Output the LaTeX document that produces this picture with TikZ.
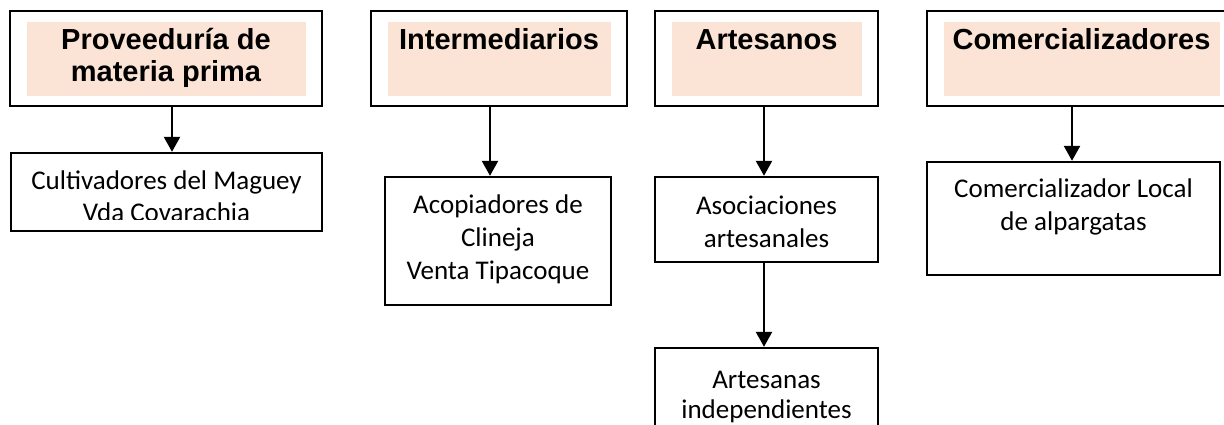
\documentclass[tikz,border=0pt]{standalone}
\usepackage{fontspec}
\setmainfont{Carlito}
\newfontfamily\hdfont{Liberation Sans}
\usepackage{tikz}
\usetikzlibrary{arrows.meta}
\definecolor{hdpeach}{RGB}{251,228,213}

\begin{document}
\begin{tikzpicture}[
        x=1pt, y=-1pt,
        head/.style={draw, line width=1.8pt, inner sep=0pt, minimum height=95pt,
            align=center, text height=0pt, text depth=17pt,
            font=\hdfont\bfseries\fontsize{29}{32}\selectfont,
            path picture={\fill[hdpeach]
                ([shift={(17pt,-11pt)}]path picture bounding box.north west)
                rectangle ([shift={(-16pt,10pt)}]path picture bounding box.south east);}},
        body/.style={draw, line width=2.4pt, inner sep=0pt, align=center,
            text depth=0pt, font=\fontsize{27}{33}\selectfont},
        bodytxt/.style={inner sep=0pt, align=center, text depth=0pt,
            font=\fontsize{27}{33}\selectfont},
        arr/.style={line width=2.4pt, -{Triangle[width=16pt,length=15pt]}}
    ]
    \useasboundingbox (0,0) rectangle (1224,425);
    \clip (0,0) rectangle (1224,425);

    \node[head, minimum width=312pt, text height=47pt, text depth=0pt] (prov) at (166,58.5)
        {Proveeduría de\\materia prima};
    \node[head, minimum width=256pt] (inter) at (499,58.5) {Intermediarios};
    \node[head, minimum width=223pt] (arte) at (766.5,58.5) {Artesanos};
    \node[head, minimum width=309pt] (comer) at (1081.5,58.5) {Comercializadores};

    \node[body, minimum width=311pt, minimum height=78pt] (cult) at (166.5,192) {};
    \begin{scope}
        \clip (0,150) rectangle (340,219.5);
        \node[bodytxt, text height=58pt, font=\fontsize{27}{32}\selectfont] (culttxt) at (cult)
            {Cultivadores del Maguey\\Vda Covarachia};
    \end{scope}
    \node[body, minimum width=226pt, minimum height=128pt, text height=76pt] (acop) at (498,241)
        {Acopiadores de\\Clineja\\Venta Tipacoque};
    \node[body, minimum width=223pt, minimum height=85pt, text height=55pt] (asoc) at (766.5,219.5)
        {Asociaciones\\artesanales};
    \node[body, minimum width=223pt, minimum height=122pt, text height=18pt,
        font=\fontsize{27}{30}\selectfont] (indep) at (766.5,409)
        {Artesanas\\independientes};
    \node[body, minimum width=293pt, minimum height=113pt, text height=23pt] (loc) at (1073.5,218.5)
        {Comercializador Local\\de alpargatas};

    \draw[arr] ([xshift=6pt]prov.south) -- ([xshift=6pt]prov.south |- cult.north);
    \draw[arr] ([xshift=-9pt]inter.south) -- ([xshift=-9pt]inter.south |- acop.north);
    \draw[arr] ([xshift=-2.5pt]arte.south) -- ([xshift=-2.5pt]arte.south |- asoc.north);
    \draw[arr] ([xshift=-2.5pt]asoc.south) -- ([xshift=-2.5pt]asoc.south |- indep.north);
    \draw[arr] ([xshift=-9.5pt]comer.south) -- ([xshift=-9.5pt]comer.south |- loc.north);
\end{tikzpicture}
\end{document}
